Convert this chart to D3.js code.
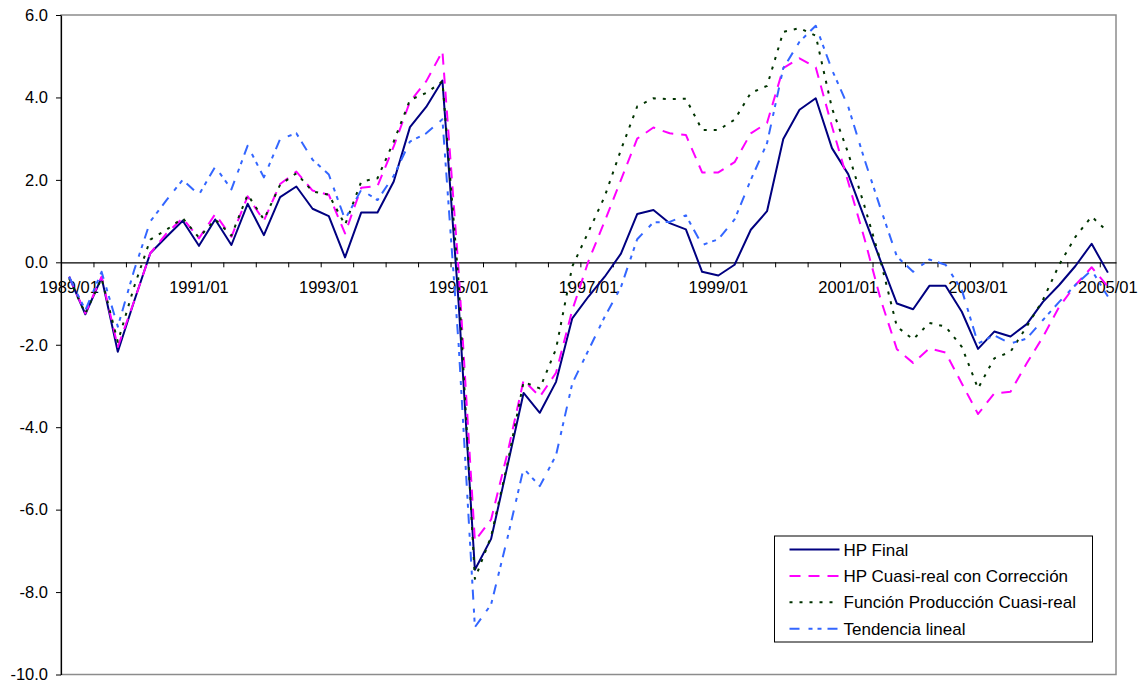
<!DOCTYPE html>
<html>
<head>
<meta charset="utf-8">
<script src="https://cdn.jsdelivr.net/npm/d3@7"></script>
<style>
  body { margin: 0; background: #fff; }
  svg { font-family: "Liberation Sans", Arial, sans-serif; }
</style>
</head>
<body>
<div id="chart"></div>
<script>
  // trimestres 1989/01 .. 2005/01
  var categories = [];
  for (var yr = 1989; yr <= 2005; yr++) {
    for (var q = 1; q <= 4; q++) {
      if (yr == 2005 && q > 1) break;
      categories.push(yr + "/0" + q);
    }
  }
  var tickLabels = ["1989/01","1991/01","1993/01","1995/01","1997/01","1999/01","2001/01","2003/01","2005/01"];
  var yTicks = [6, 4, 2, 0, -2, -4, -6, -8, -10];

  var hpFinal = [-0.35,-1.26,-0.37,-2.17,-0.95,0.22,0.62,1.01,0.40,1.04,0.42,1.42,0.66,1.58,1.84,1.30,
    1.12,0.12,1.21,1.21,1.96,3.28,3.77,4.41,-1.00,-7.46,-6.71,-4.95,-3.17,-3.65,-2.90,-1.36,
    -0.83,-0.35,0.21,1.17,1.27,0.95,0.80,-0.23,-0.32,-0.06,0.79,1.24,2.99,3.70,3.98,2.77,
    2.14,1.08,0.03,-1.00,-1.14,-0.57,-0.57,-1.20,-2.10,-1.68,-1.80,-1.50,-0.96,-0.55,-0.09,0.45,-0.25];
  var hpCuasi = [-0.35,-1.24,-0.35,-2.05,-0.95,0.22,0.70,1.07,0.58,1.17,0.62,1.60,1.01,1.90,2.20,1.74,
    1.64,0.70,1.81,1.85,2.81,3.90,4.39,5.12,-0.20,-6.76,-6.24,-4.64,-2.86,-3.26,-2.68,-1.16,
    0.03,1.00,2.00,3.00,3.27,3.13,3.09,2.18,2.18,2.43,3.13,3.38,4.71,4.95,4.73,3.30,
    1.95,0.58,-0.90,-2.11,-2.44,-2.09,-2.19,-2.94,-3.68,-3.18,-3.14,-2.45,-1.81,-1.08,-0.55,-0.12,-0.59];
  var funcProd = [-0.39,-1.24,-0.39,-1.93,-0.60,0.55,0.79,1.07,0.60,1.04,0.65,1.64,1.04,1.88,2.16,1.72,
    1.64,0.91,1.96,2.04,2.93,3.94,4.11,4.39,-0.50,-7.68,-6.65,-4.90,-2.90,-3.06,-2.10,-0.10,
    0.74,1.60,2.73,3.78,3.98,3.96,3.97,3.21,3.21,3.46,4.11,4.28,5.59,5.68,5.50,3.74,
    2.65,1.37,0.02,-1.56,-1.87,-1.47,-1.56,-2.05,-3.06,-2.33,-2.17,-1.56,-0.91,-0.06,0.62,1.11,0.74];
  var tendencia = [-0.35,-1.16,-0.23,-1.56,-0.20,0.99,1.51,2.00,1.64,2.32,1.77,2.83,2.06,2.99,3.13,2.49,
    2.13,1.04,1.76,1.51,2.10,2.93,3.13,3.47,-2.00,-8.85,-8.30,-6.70,-5.00,-5.43,-4.68,-2.94,
    -2.13,-1.32,-0.60,0.56,0.97,0.98,1.14,0.42,0.56,1.04,2.00,2.89,4.71,5.35,5.74,4.67,
    3.78,2.50,1.30,0.14,-0.23,0.07,-0.06,-0.67,-1.97,-1.77,-1.97,-1.85,-1.40,-0.96,-0.55,-0.19,-0.83];

  var seriesNames = ["HP Final", "HP Cuasi-real con Corrección", "Función Producción Cuasi-real", "Tendencia lineal"];

  var series = [
    {name: seriesNames[0], values: hpFinal,   color: "#000080", dash: null},
    {name: seriesNames[1], values: hpCuasi,   color: "#ff00ff", dash: "11,8"},
    {name: seriesNames[2], values: funcProd,  color: "#003300", dash: "3,7"},
    {name: seriesNames[3], values: tendencia, color: "#3366ff", dash: "10,9,4,5,4,6"}
  ];

  var W = 1146, H = 685;
  var plotL = 61, plotR = 1116, plotT = 15, plotB = 674.5;

  var svg = d3.select("#chart").append("svg")
    .attr("width", W)
    .attr("height", H);

  var x = d3.scaleBand()
    .domain(categories)
    .range([plotL, plotR])
    .paddingInner(0).paddingOuter(0);
  var xIdx = d3.scaleLinear().domain([0, categories.length]).range([plotL, plotR]);

  var y = d3.scaleLinear().domain([-10, 6]).range([plotB, plotT]);

  // borde del area de trazado
  svg.append("rect")
    .attr("x", plotL).attr("y", plotT)
    .attr("width", plotR - plotL).attr("height", plotB - plotT)
    .attr("fill", "none")
    .attr("stroke", "#8c8c8c")
    .attr("stroke-width", 1.5);

  // eje Y
  var yAxis = svg.append("g")
    .attr("transform", "translate(" + plotL + ",0)")
    .call(d3.axisLeft(y)
      .tickValues(yTicks)
      .tickSize(5)
      .tickSizeOuter(0)
      .tickPadding(8)
      .tickFormat(function(d) { return d.toFixed(1); }));
  yAxis.select(".domain").attr("stroke", "#000").attr("stroke-width", 1.2);
  yAxis.selectAll(".tick line").attr("stroke", "#000");
  yAxis.selectAll("text").attr("fill", "#000").style("font-size", "16.5px");

  // eje X en cero: marcas cada dos trimestres
  var zeroY = y(0);
  var xTicks = svg.append("g")
    .attr("transform", "translate(0," + zeroY + ")")
    .call(d3.axisBottom(xIdx)
      .tickValues(d3.range(0, categories.length, 2))
      .tickSize(5)
      .tickSizeOuter(0)
      .tickFormat(""));
  xTicks.select(".domain").attr("stroke", "#000").attr("stroke-width", 1.2);
  xTicks.selectAll(".tick line").attr("stroke", "#000");

  // etiquetas (el eje de bandas ya las centra en cada trimestre)
  var xLabels = svg.append("g")
    .attr("transform", "translate(0," + zeroY + ")")
    .call(d3.axisBottom(x)
      .tickValues(tickLabels)
      .tickSize(0)
      .tickPadding(19));
  xLabels.select(".domain").remove();
  xLabels.selectAll("text").attr("fill", "#000").style("font-size", "16.5px");

  // lineas
  var line = d3.line()
    .x(function(d, i) { return x(categories[i]) + x.bandwidth() / 2; })
    .y(function(d) { return y(d); });

  svg.selectAll(".serie")
    .data(series)
    .enter()
    .append("path")
    .attr("class", "serie")
    .attr("d", function(d) { return line(d.values); })
    .attr("fill", "none")
    .attr("stroke", function(d) { return d.color; })
    .attr("stroke-width", 2)
    .attr("stroke-dasharray", function(d) { return d.dash; })
    .attr("stroke-linejoin", "round");

  // leyenda
  var lg = svg.append("g").attr("transform", "translate(774.5,536)");
  lg.append("rect")
    .attr("width", 318).attr("height", 106)
    .attr("fill", "#fff")
    .attr("stroke", "#000")
    .attr("stroke-width", 1);

  var item = lg.selectAll(".item")
    .data(series)
    .enter()
    .append("g")
    .attr("class", "item")
    .attr("transform", function(d, i) { return "translate(0," + (13.5 + i * 26.4) + ")"; });
  item.append("line")
    .attr("x1", 15).attr("x2", 65)
    .attr("stroke", function(d) { return d.color; })
    .attr("stroke-width", 2)
    .attr("stroke-dasharray", function(d) { return d.dash; });
  item.append("text")
    .attr("x", 69)
    .attr("dy", "0.36em")
    .style("font-size", "17px")
    .text(function(d) { return d.name; });
</script>
</body>
</html>
